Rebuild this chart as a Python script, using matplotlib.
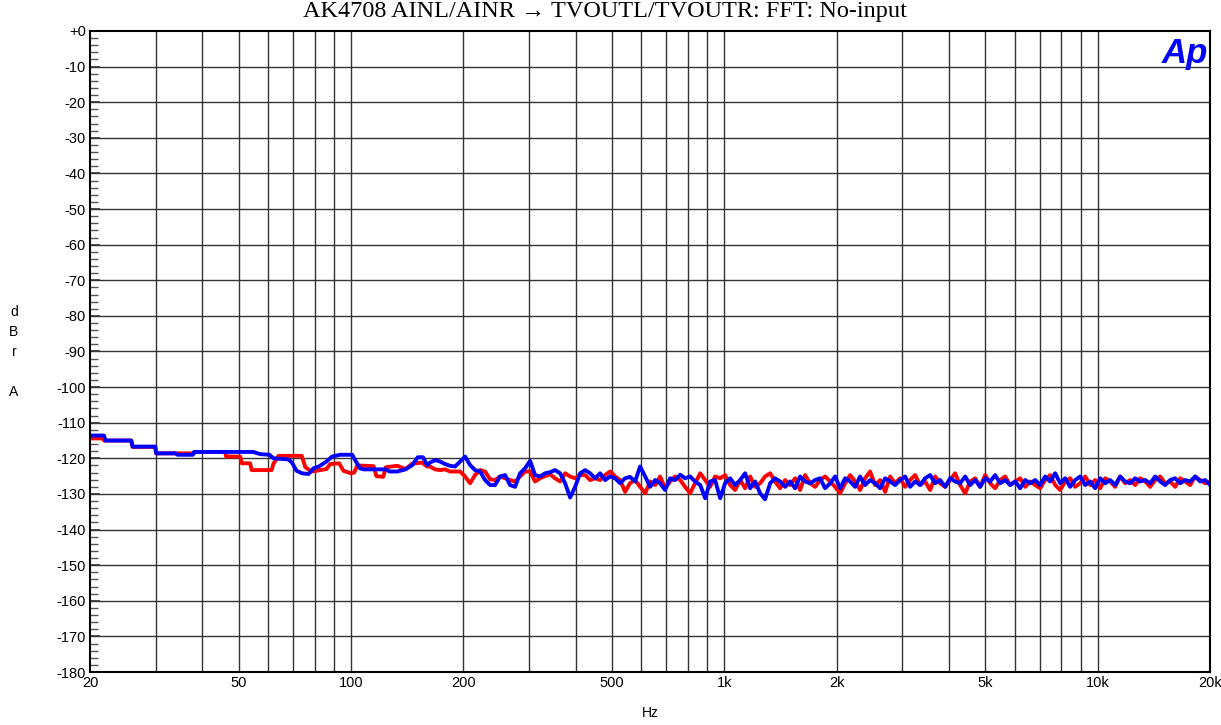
import matplotlib
matplotlib.use("Agg")
import matplotlib.pyplot as plt
from matplotlib.ticker import FixedLocator, NullFormatter, NullLocator

title = "AK4708 AINL/AINR \u2192 TVOUTL/TVOUTR: FFT: No-input"

# ---- low-frequency (stepped) part ----
red_lo_f = [20, 21.6, 21.8, 25.8, 26.0, 29.9, 30.1, 38.0, 38.2, 46.0, 46.3, 50.5, 51.0, 53.7,
            54.2, 61.3, 62.0, 64.0, 73.8, 75.5, 78.5, 86.0, 88.0, 93.0, 95.5, 100, 102, 104,
            115, 117, 122, 124, 133, 140, 146, 155, 160]
red_lo_db = [-114.4, -114.4, -115.0, -115.0, -116.8, -116.8, -118.6, -118.6, -118.2, -118.2,
             -119.5, -119.5, -121.4, -121.4, -123.3, -123.3, -121.5, -119.3, -119.3, -122.5,
             -123.7, -123.0, -121.6, -121.4, -123.5, -124.2, -124.0, -122.0, -122.2, -125.0,
             -125.2, -122.5, -122.1, -123.0, -121.5, -121.2, -122.3]

blue_lo_f = [20, 21.8, 22.0, 25.8, 26.0, 29.9, 30.1, 34.0, 34.3, 37.7, 38.0, 54.7, 57.0, 60.5,
             62.0, 68.0, 69.5, 71.5, 74.0, 77.0, 79.4, 82.0, 86.0, 89.0, 93.5, 100.8, 102.6,
             105.8, 108, 124, 127, 133, 140, 146, 151, 156, 160]
blue_lo_db = [-113.6, -113.6, -115.0, -115.0, -116.7, -116.7, -118.6, -118.6, -119.0, -119.0,
              -118.2, -118.2, -118.8, -119.0, -120.0, -120.3, -121.2, -123.5, -124.2, -124.4,
              -122.8, -122.3, -120.9, -119.5, -119.0, -119.0, -120.5, -122.8, -123.1, -123.1,
              -123.7, -123.7, -123.1, -121.9, -119.7, -119.7, -121.9]

# ---- mid-frequency part ----
mid_f = [162.9, 167.9, 173.3, 178.7, 184.3, 190.1, 196.0, 202.2, 208.5, 215.0, 221.8, 228.7,
         235.9, 243.3, 250.9, 258.7, 266.8, 275.2, 283.8, 292.7, 301.9, 311.3, 321.1, 331.1,
         341.5, 352.2, 363.3, 374.7, 386.4, 398.5, 411.0, 423.9, 437.1, 450.8, 464.9, 479.5,
         494.5, 510.0, 526.0, 542.4]
red_mid_db = [-122.3, -123.1, -123.3, -123.1, -123.7, -123.7, -123.7, -125.1, -127.0, -124.7,
              -123.3, -123.7, -125.9, -126.1, -125.1, -125.6, -126.1, -126.5, -125.1, -123.7,
              -123.7, -126.5, -125.6, -125.0, -124.5, -125.6, -126.5, -124.2, -125.1, -125.6,
              -124.7, -124.7, -126.1, -125.6, -126.1, -124.7, -123.7, -125.1, -126.1, -129.4]
blue_mid_db = [-121.2, -120.5, -120.9, -121.6, -122.1, -122.3, -120.9, -119.5, -121.9, -123.3,
               -123.7, -126.1, -127.5, -127.5, -125.1, -124.7, -127.5, -128.0, -124.2, -122.8,
               -120.7, -124.7, -125.1, -124.2, -123.9, -123.3, -124.2, -127.0, -131.0, -128.0,
               -124.2, -123.3, -124.2, -125.6, -124.2, -126.1, -125.1, -125.6, -127.0, -125.6]

# ---- high-frequency (noise floor) part ----
hi_f = [559, 577, 595, 614, 633, 653, 673, 694, 716, 738, 762, 785, 810, 835, 862, 889, 916,
        945, 975, 1005, 1037, 1069, 1103, 1137, 1173, 1210, 1247, 1286, 1327, 1368, 1411, 1455,
        1501, 1548, 1596, 1646, 1698, 1751, 1806, 1862, 1921, 1981, 2043, 2107, 2173, 2241,
        2311, 2383, 2458, 2535, 2615, 2697, 2781, 2868, 2958, 3051, 3146, 3245, 3347, 3451,
        3560, 3671, 3786, 3905, 4027, 4153, 4283, 4418, 4556, 4699, 4846, 4998, 5154, 5316,
        5482, 5654, 5831, 6014, 6202, 6397, 6597, 6804, 7016, 7236, 7463, 7697, 7938, 8186,
        8443, 8707, 8980, 9261, 9551, 9850, 10159, 10477, 10806, 11143, 11493, 11852, 12224,
        12606, 13002, 13409, 13829, 14262, 14709, 15169, 15645, 16134, 16640, 17161, 17699,
        18253, 18825, 19414, 20000]
red_hi_db = [-127.0, -126.1, -128.0, -129.8, -126.5, -127.5, -125.1, -128.4, -126.5, -125.1,
             -126.1, -128.0, -129.8, -127.0, -124.2, -126.1, -128.0, -125.1, -125.6, -124.7,
             -127.5, -128.9, -126.1, -128.4, -125.1, -128.0, -127.0, -125.1, -124.2, -126.5,
             -128.4, -126.1, -127.5, -125.6, -128.9, -124.7, -127.0, -128.0, -126.1, -125.1,
             -126.5, -128.0, -129.8, -127.0, -124.7, -126.5, -128.9, -125.6, -123.7, -127.5,
             -126.1, -129.4, -125.1, -127.0, -125.6, -128.0, -126.1, -124.7, -127.5, -126.5,
             -128.9, -125.1, -127.0, -128.0, -126.1, -124.2, -127.5, -129.8, -126.5, -125.6,
             -128.0, -124.7, -127.0, -128.4, -126.1, -125.1, -127.5, -126.5, -125.6, -128.0,
             -126.5, -127.5, -128.4, -126.1, -124.7, -127.5, -128.9, -126.5, -125.6, -128.0,
             -127.0, -125.1, -127.5, -126.1, -128.4, -125.6, -126.5, -128.0, -125.1, -127.0,
             -126.1, -127.5, -125.6, -126.5, -128.0, -126.1, -125.1, -127.0, -126.5, -128.0,
             -125.6, -126.5, -127.5, -125.1, -126.1, -127.0, -126.5]
blue_hi_db = [-125.2, -126.5, -122.3, -125.1, -128.0, -126.1, -127.0, -128.9, -125.6, -126.1,
              -124.6, -125.6, -125.1, -126.5, -127.5, -131.2, -126.5, -126.1, -131.2, -127.0,
              -125.6, -127.5, -126.1, -124.2, -128.4, -126.5, -129.8, -131.5, -127.0, -125.6,
              -126.5, -128.0, -126.5, -128.4, -125.1, -126.5, -127.0, -126.1, -125.6, -128.4,
              -127.0, -125.1, -128.4, -125.6, -126.5, -128.0, -125.1, -127.5, -126.1, -127.0,
              -128.4, -125.6, -126.5, -127.5, -126.1, -125.1, -128.0, -126.5, -127.5, -125.6,
              -124.7, -127.0, -126.1, -128.0, -125.6, -126.5, -127.0, -125.1, -127.5, -126.1,
              -128.0, -125.6, -126.5, -124.7, -127.0, -126.1, -127.5, -126.5, -128.4, -126.1,
              -127.0, -126.1, -127.5, -125.1, -126.5, -124.2, -127.0, -125.6, -128.0, -126.1,
              -125.1, -127.5, -126.5, -128.4, -125.6, -127.0, -126.1, -127.5, -125.1, -126.5,
              -127.0, -125.6, -126.5, -126.1, -127.0, -125.1, -126.5, -127.5, -126.1, -125.6,
              -127.0, -126.1, -126.5, -125.1, -126.5, -126.1, -127.5]

x_ticks = [20, 50, 100, 200, 500, 1000, 2000, 5000, 10000, 20000]
x_tick_labels = ["20", "50", "100", "200", "500", "1k", "2k", "5k", "10k", "20k"]
x_grid = [30, 40, 50, 60, 70, 80, 90, 100, 200, 300, 400, 500, 600, 700, 800, 900, 1000,
          2000, 3000, 4000, 5000, 6000, 7000, 8000, 9000, 10000]
y_ticks = list(range(-180, 1, 10))
y_tick_labels = ["+0" if v == 0 else str(v) for v in y_ticks]

fig = plt.figure(figsize=(12.21, 7.25), dpi=100)
ax = fig.add_axes([90 / 1221, 53 / 725, 1120 / 1221, 641 / 725])

red_f = red_lo_f + mid_f + hi_f
red_db = red_lo_db + red_mid_db + red_hi_db
blue_f = blue_lo_f + mid_f + hi_f
blue_db = blue_lo_db + blue_mid_db + blue_hi_db

ax.set_xscale("log")
ax.set_xlim(20, 20000)
ax.set_ylim(-180, 0)

for g in x_grid:
    ax.axvline(g, color="#333333", lw=1.0, zorder=1)
for v in y_ticks[1:-1]:
    ax.axhline(v, color="#333333", lw=1.0, zorder=1)

ax.plot(red_f, red_db, color="#ff0000", lw=2.8, zorder=3, solid_joinstyle="round")
ax.plot(blue_f, blue_db, color="#0000ff", lw=2.8, zorder=4, solid_joinstyle="round")

ax.xaxis.set_major_locator(FixedLocator(x_ticks))
ax.set_xticklabels(x_tick_labels, fontfamily="Liberation Sans", fontsize=10.5)
ax.xaxis.set_minor_locator(NullLocator())
ax.xaxis.set_minor_formatter(NullFormatter())
ax.tick_params(axis="x", which="major", length=0, pad=3)

ax.yaxis.set_major_locator(FixedLocator(y_ticks))
ax.set_yticklabels(y_tick_labels, fontfamily="Liberation Sans", fontsize=10.5)
ax.yaxis.set_minor_locator(FixedLocator([v for v in range(-180, 1, 2) if v % 10 != 0]))
ax.tick_params(axis="y", which="major", direction="in", length=7, width=1.2, pad=3, color="#333333")
ax.tick_params(axis="y", which="minor", direction="in", length=6, width=1.0, color="#555555")

for s in ax.spines.values():
    s.set_linewidth(1.5)
    s.set_color("black")
    s.set_zorder(5)

fig.text(605 / 1221, 1 - 12 / 725, title, ha="center", va="center", fontsize=17.5,
         family=["Liberation Serif", "DejaVu Serif"])
fig.text(650 / 1221, 1 - 713 / 725, "Hz", ha="center", va="center", fontsize=10,
         family="Liberation Sans")
fig.text(14 / 1221, 1 - 352 / 725, "d\nB\nr\n\nA", ha="center", va="center", fontsize=10,
         family="Liberation Sans", linespacing=1.55)
ax.text(0.998, 0.99, "Ap", transform=ax.transAxes, ha="right", va="top", fontsize=25,
        fontweight="bold", fontstyle="italic", color="#0000ff", family="Liberation Sans",
        zorder=6)

fig.savefig("out.png", dpi=100)
